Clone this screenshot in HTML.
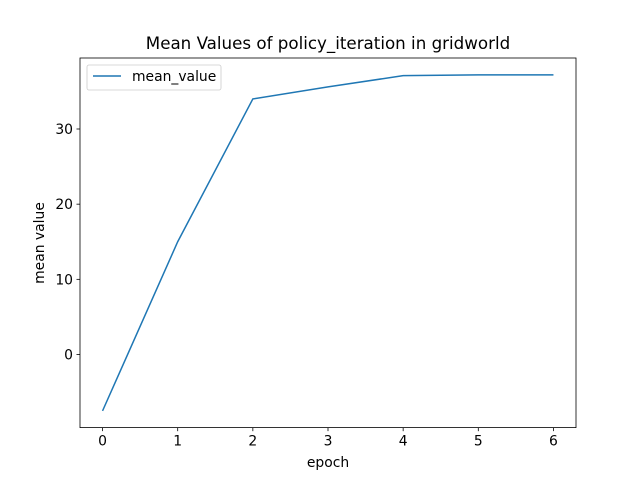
<!DOCTYPE html>
<html><head><meta charset="utf-8"><style>body{margin:0;background:#fff}svg{font-family:"DejaVu Sans","Liberation Sans",sans-serif}</style></head>
<body>
<svg id="chart" width="640" height="480">
<rect width="640" height="480" fill="#fff"/>
<text x="328" y="49" text-anchor="middle" font-size="16.7">Mean Values of policy_iteration in gridworld</text>
<g id="ticks"></g>
<path id="line" fill="none" stroke="#1f77b4" stroke-width="1.5"/>
<rect x="80" y="58" width="496" height="369.6" fill="none" stroke="#000" stroke-width="0.8"/>
<text x="328" y="467" text-anchor="middle" font-size="13.9">epoch</text>
<text x="44" y="243" text-anchor="middle" font-size="13.9" transform="rotate(-90 44 243)">mean value</text>
<g>
<rect x="87" y="65" width="134" height="25" rx="2" fill="#fff" stroke="#ccc" stroke-width="0.8"/>
<line x1="93" y1="76" x2="121" y2="76" stroke="#1f77b4" stroke-width="1.5"/>
<text x="132" y="81" font-size="13.9">mean_value</text>
</g>
</svg>
<script>
const epochs=[0,1,2,3,4,5,6];
const meanValues=[-7.5,15.0,34.0,35.6,37.1,37.2,37.2];
const xTicks=[0,1,2,3,4,5,6];
const yTicks=[0,10,20,30];
const L=80,R=576,T=58.08,B=427.68;
const xmin=-0.3,xmax=6.3;
const vmin=Math.min(...meanValues),vmax=Math.max(...meanValues),pad=(vmax-vmin)*0.05;
const ymin=vmin-pad,ymax=vmax+pad;
const xs=v=>L+(v-xmin)/(xmax-xmin)*(R-L);
const ys=v=>B-(v-ymin)/(ymax-ymin)*(B-T);
const NS="http://www.w3.org/2000/svg";
const g=document.getElementById('ticks');
function mk(t,a){const e=document.createElementNS(NS,t);for(const k in a)e.setAttribute(k,a[k]);g.appendChild(e);return e;}
xTicks.forEach(v=>{const x=xs(v);
const l=mk('line',{x1:x,x2:x,y1:B,y2:B+3.5,stroke:'#000','stroke-width':0.8});


const t=mk('text',{x:x,y:B+18,'text-anchor':'middle','font-size':13.9});t.textContent=v;

});
yTicks.forEach(v=>{const y=ys(v);
const l=mk('line',{x1:L-3.5,x2:L,y1:y,y2:y,stroke:'#000','stroke-width':0.8});


const t=mk('text',{x:L-7,y:y+5,'text-anchor':'end','font-size':13.9});t.textContent=v;

});
document.getElementById('line').setAttribute('d',epochs.map((e,i)=>(i?'L':'M')+xs(e)+','+ys(meanValues[i])).join(''));
</script>
</body></html>
